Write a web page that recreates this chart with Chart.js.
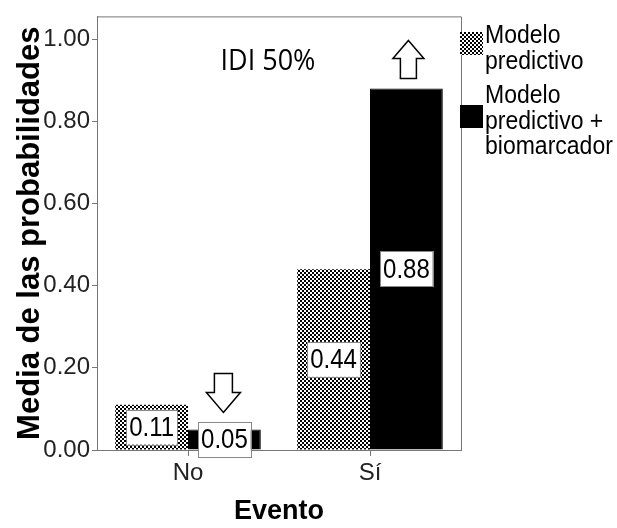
<!DOCTYPE html>
<html><head><meta charset="utf-8">
<script src="https://cdn.jsdelivr.net/npm/chart.js@4"></script>
<style>html,body{margin:0;padding:0;background:#fff}</style>
</head><body>
<canvas id="c" width="617" height="528"></canvas>
<script>
// ---- data ----
const categories = ['No', 'Sí'];
const seriesNames = ['Modelo predictivo', 'Modelo predictivo + biomarcador'];
const legendLines = [['Modelo', 'predictivo'], ['Modelo', 'predictivo +', 'biomarcador']];
const modeloPredictivo = [0.11, 0.44];
const modeloBiomarcador = [0.05, 0.88];
const yTicks = [0.00, 0.20, 0.40, 0.60, 0.80, 1.00];
const yTitle = 'Media de las probabilidades';
const xTitle = 'Evento';
const noteText = 'IDI 50%';
const arrowDirs = ['down', 'up']; // arrows above the biomarker bars

const FONT = '"Liberation Sans", Arial, sans-serif';
const canvas = document.getElementById('c');
const ctx0 = canvas.getContext('2d');

function checkerPattern() {
  const p = document.createElement('canvas');
  p.width = 4; p.height = 4;
  const g = p.getContext('2d');
  g.fillStyle = '#fff'; g.fillRect(0, 0, 4, 4);
  g.fillStyle = '#000'; g.fillRect(0, 0, 2, 2); g.fillRect(2, 2, 2, 2);
  return ctx0.createPattern(p, 'repeat');
}
const pattern = checkerPattern();

function drawArrow(ctx, cx, top, bottom, dir, headW, shaftW, headL) {
  ctx.beginPath();
  if (dir === 'up') {
    ctx.moveTo(cx, top);
    ctx.lineTo(cx + headW / 2, top + headL);
    ctx.lineTo(cx + shaftW / 2, top + headL);
    ctx.lineTo(cx + shaftW / 2, bottom);
    ctx.lineTo(cx - shaftW / 2, bottom);
    ctx.lineTo(cx - shaftW / 2, top + headL);
    ctx.lineTo(cx - headW / 2, top + headL);
  } else {
    ctx.moveTo(cx, bottom);
    ctx.lineTo(cx + headW / 2, bottom - headL);
    ctx.lineTo(cx + shaftW / 2, bottom - headL);
    ctx.lineTo(cx + shaftW / 2, top);
    ctx.lineTo(cx - shaftW / 2, top);
    ctx.lineTo(cx - shaftW / 2, bottom - headL);
    ctx.lineTo(cx - headW / 2, bottom - headL);
  }
  ctx.closePath();
  ctx.fillStyle = '#fff';
  ctx.fill();
  ctx.lineWidth = 1.5;
  ctx.strokeStyle = '#000';
  ctx.stroke();
}

// text slightly stretched vertically, like the reference
function tallText(ctx, txt, x, y, sy) {
  ctx.save();
  ctx.translate(x, y);
  ctx.scale(1, sy);
  ctx.fillText(txt, 0, 0);
  ctx.restore();
}

const extras = {
  id: 'extras',
  afterDatasetsDraw(chart) {
    const ctx = chart.ctx;
    const ca = chart.chartArea;
    ctx.save();
    // box border (top & right)
    ctx.strokeStyle = '#777';
    ctx.lineWidth = 1;
    ctx.beginPath();
    ctx.moveTo(ca.left, ca.top + 0.5);
    ctx.lineTo(ca.right + 0.5, ca.top + 0.5);
    ctx.lineTo(ca.right + 0.5, ca.bottom);
    ctx.stroke();

    // value labels
    ctx.font = '24px ' + FONT;
    ctx.textAlign = 'center';
    ctx.textBaseline = 'middle';
    chart.data.datasets.forEach((ds, di) => {
      const meta = chart.getDatasetMeta(di);
      meta.data.forEach((el, i) => {
        const txt = ds.data[i].toFixed(2);
        const cx = el.x, cy = (el.y + el.base) / 2;
        const w = ctx.measureText(txt).width + 6, h = 35;
        ctx.fillStyle = '#fff';
        ctx.fillRect(cx - w / 2, cy - h / 2, w, h);
        ctx.strokeStyle = '#888';
        ctx.lineWidth = 1;
        ctx.strokeRect(Math.round(cx - w / 2) + 0.5, Math.round(cy - h / 2) + 0.5, Math.round(w), h);
        ctx.fillStyle = '#000';
        tallText(ctx, txt, cx, cy + 1, 1.15);
      });
    });

    // arrows above biomarker bars
    const meta1 = chart.getDatasetMeta(1);
    meta1.data.forEach((el, i) => {
      const dir = arrowDirs[i];
      if (dir === 'down') {
        const bottom = el.y - 17;
        drawArrow(ctx, el.x - 1, bottom - 39, bottom, 'down', 34, 18, 20);
      } else {
        const bottom = el.y - 10;
        drawArrow(ctx, el.x + 2, bottom - 38, bottom, 'up', 31, 16, 18);
      }
    });

    // note text
    ctx.font = '27px "Open Sans", sans-serif';
    ctx.fillStyle = '#000';
    ctx.textAlign = 'center';
    ctx.textBaseline = 'middle';
    tallText(ctx, noteText, 268, 62, 1.1);

    // legend
    const sx = ca.right - 1;
    const entries = [
      { swTop: 32, lines: [36, 62] },
      { swTop: 105, lines: [96, 122, 147] }
    ];
    ctx.font = '23px ' + FONT;
    ctx.textAlign = 'left';
    ctx.textBaseline = 'middle';
    entries.forEach((e, k) => {
      ctx.fillStyle = chart.data.datasets[k].backgroundColor;
      ctx.fillRect(sx, e.swTop, 23, 23);
      ctx.fillStyle = '#000';
      legendLines[k].forEach((ln, j) => tallText(ctx, ln, sx + 25, e.lines[j], 1.12));
    });
    ctx.restore();
  }
};

new Chart(canvas, {
  type: 'bar',
  data: {
    labels: categories,
    datasets: [
      { label: seriesNames[0], data: modeloPredictivo, backgroundColor: pattern, borderWidth: 0 },
      { label: seriesNames[1], data: modeloBiomarcador, backgroundColor: '#000', borderColor: '#000', borderWidth: 1 }
    ]
  },
  options: {
    responsive: false,
    animation: false,
    events: [],
    layout: { padding: { top: 12, right: 156, left: 0, bottom: 0 } },
    datasets: { bar: { categoryPercentage: 0.8, barPercentage: 1.0 } },
    plugins: { legend: { display: false }, tooltip: { enabled: false } },
    scales: {
      x: {
        grid: { display: true, drawOnChartArea: false, offset: false, tickLength: 6, color: '#777' },
        border: { color: '#777' },
        ticks: { font: { size: 24, family: FONT }, color: '#222', padding: 3 },
        title: { display: true, text: xTitle, font: { size: 27, weight: 'bold', family: FONT }, color: '#000', padding: { top: 0, bottom: 0 } },
        afterFit(s) { s.height = 78; }
      },
      y: {
        min: 0,
        max: 1.0554,
        afterBuildTicks(s) { s.ticks = yTicks.map(v => ({ value: v })); },
        grid: { display: true, drawOnChartArea: false, tickLength: 5, color: '#777' },
        border: { color: '#777' },
        ticks: { font: { size: 24, family: FONT }, color: '#222', padding: 2, callback: v => Number(v).toFixed(2) },
        title: { display: true, text: yTitle, font: { size: 31, weight: 'bold', family: FONT }, color: '#000', padding: { top: 12, bottom: 0 } },
        afterFit(s) { s.width = 97; }
      }
    }
  },
  plugins: [extras]
});
</script>
</body></html>
